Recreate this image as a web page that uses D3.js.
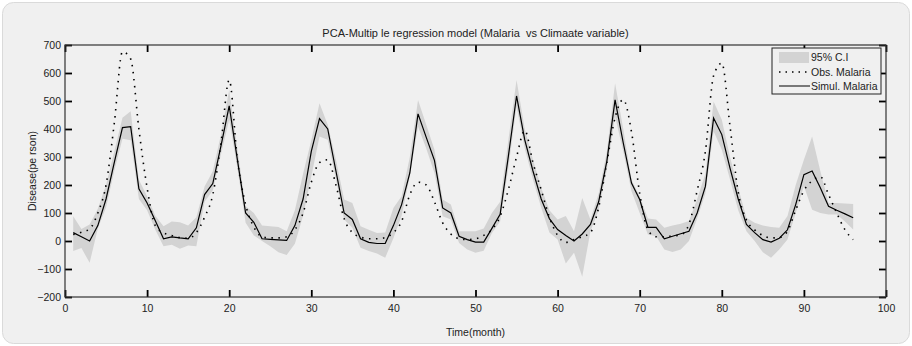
<!DOCTYPE html>
<html>
<head>
<meta charset="utf-8">
<script src="https://cdn.jsdelivr.net/npm/d3@7"></script>
<style>
  body { margin: 0; background: #fff; }
  text { font-family: "Liberation Sans", Arial, sans-serif; fill: #222; }
</style>
</head>
<body>
<div id="chart"></div>
<script>
// months 1..96
var months = d3.range(1, 97);

// observed malaria cases
var observed = [23, 31, 43, 100, 200, 420, 676, 650, 400, 190, 55, 29, 20, 12, 10, 30, 85, 165, 350, 575,
  290, 130, 50, 15, 11, 11, 15, 40, 100, 210, 280, 290, 200, 80, 30, 14, 8, 8, 12, 30,
  70, 165, 210, 200, 140, 65, 25, 8, 5, 8, 20, 41, 88, 183, 300, 395, 280, 183, 85, 20,
  -5, 5, 15, 30, 120, 280, 440, 505, 390, 170, 40, 15, 15, 18, 22, 60, 180, 320, 590, 635,
  410, 175, 75, 40, 20, 11, 12, 35, 110, 180, 215, 230, 166, 100, 40, 5];

// simulated (PCA regression) cases
var simulated = [30, 15, 0, 55, 150, 280, 405, 408, 186, 136, 72, 8, 15, 11, 8, 47, 166, 205, 340, 483,
  290, 100, 67, 8, 6, 4, 2, 55, 150, 320, 437, 400, 250, 100, 77, 8, -5, -9, -9, 55,
  130, 243, 454, 370, 288, 118, 100, 17, 5, -4, -4, 45, 95, 302, 518, 361, 250, 150, 80, 41,
  20, 0, 25, 59, 140, 285, 504, 350, 207, 148, 49, 49, 8, 17, 26, 35, 100, 195, 439, 380,
  260, 150, 59, 30, 5, -4, 10, 40, 130, 237, 250, 190, 124, 110, 97, 83];

// 95% confidence band
var upper = [88, 43, 59, 115, 200, 320, 440, 463, 219, 160, 90, 53, 70, 67, 55, 85, 195, 249, 380, 540,
  330, 124, 100, 55, 53, 50, 35, 110, 240, 360, 492, 415, 290, 148, 136, 53, 40, 29, 30, 118,
  160, 300, 504, 415, 326, 148, 130, 35, 35, 35, 45, 100, 140, 360, 575, 400, 290, 190, 110, 77,
  89, 35, 154, 77, 170, 320, 563, 400, 219, 160, 80, 77, 47, 55, 62, 71, 150, 240, 498, 433,
  300, 190, 83, 65, 55, 50, 47, 89, 200, 290, 373, 250, 136, 136, 134, 132];
var lower = [-36, -25, -78, 45, 120, 250, 365, 360, 150, 110, 40, -19, -13, -28, -16, -19, 140, 180, 310, 433,
  260, 65, 20, 0, -19, -40, -50, -10, 90, 230, 373, 362, 220, 77, 47, -24, -36, -45, -60, 10,
  90, 230, 409, 330, 243, 88, 77, -7, -30, -42, -35, 29, 70, 260, 480, 330, 220, 120, 30, 5,
  -80, -42, -128, 35, 110, 255, 445, 320, 178, 100, 23, 17, -30, -39, -30, 0, 80, 170, 392, 326,
  220, 110, 35, 0, -40, -60, -30, 5, 100, 196, 112, 100, 95, 95, 70, 41];

var xTicks = d3.range(0, 101, 10);
var yTicks = d3.range(-200, 701, 100);
var legendLabels = ["95% C.I", "Obs. Malaria", "Simul. Malaria"];

var W = 912, H = 346;
var margin = {top: 45, right: 26, bottom: 49, left: 65};
var width = W - margin.left - margin.right,
    height = H - margin.top - margin.bottom;

var svg = d3.select("#chart").append("svg")
    .attr("width", W)
    .attr("height", H);

// figure panel
svg.append("rect")
    .attr("x", 2.5).attr("y", 2.5)
    .attr("width", W - 5).attr("height", H - 5)
    .attr("rx", 11)
    .attr("fill", "#f0f0f0")
    .attr("stroke", "#dadada");

var g = svg.append("g")
    .attr("transform", "translate(" + margin.left + "," + margin.top + ")");

var x = d3.scaleLinear().domain([0, 100]).range([0, width]);
var y = d3.scaleLinear().domain([-200, 700]).range([height, 0]);

var rows = months.map(function(m, i) {
  return {t: m, obs: observed[i], sim: simulated[i], lo: lower[i], hi: upper[i]};
});

// confidence band
g.append("path")
    .datum(rows)
    .attr("fill", "#d3d3d3")
    .attr("d", d3.area()
        .x(function(d) { return x(d.t); })
        .y0(function(d) { return y(d.lo); })
        .y1(function(d) { return y(d.hi); }));

// observed, dotted
g.append("path")
    .datum(rows)
    .attr("fill", "none")
    .attr("stroke", "#000")
    .attr("stroke-width", 1.6)
    .attr("stroke-dasharray", "1.5,5.5")
    .attr("d", d3.line()
        .curve(d3.curveMonotoneX)
        .x(function(d) { return x(d.t); })
        .y(function(d) { return y(d.obs); }));

// simulated, solid
g.append("path")
    .datum(rows)
    .attr("fill", "none")
    .attr("stroke", "#000")
    .attr("stroke-width", 1.2)
    .attr("d", d3.line()
        .x(function(d) { return x(d.t); })
        .y(function(d) { return y(d.sim); }));

// axes, ticks inward like matlab
var tk = 7;
var xAxis = g.append("g")
    .attr("transform", "translate(0," + height + ")")
    .call(d3.axisBottom(x).tickValues(xTicks).tickSize(-tk).tickSizeOuter(0).tickPadding(8));
var xTop = g.append("g")
    .call(d3.axisTop(x).tickValues(xTicks).tickSize(-tk).tickSizeOuter(0).tickFormat(""));
var yAxis = g.append("g")
    .call(d3.axisLeft(y).tickValues(yTicks).tickSize(-tk).tickSizeOuter(0).tickPadding(4));
var yRight = g.append("g")
    .attr("transform", "translate(" + width + ",0)")
    .call(d3.axisRight(y).tickValues(yTicks).tickSize(-tk).tickSizeOuter(0).tickFormat(""));

[xAxis, xTop, yAxis, yRight].forEach(function(a) {
  a.select(".domain").remove();
  a.selectAll(".tick line").attr("stroke", "#000").attr("stroke-width", 1.8);
  a.selectAll(".tick text")
      .attr("font-size", 10.5)
      .attr("font-family", "Liberation Sans, Arial, sans-serif")
      .attr("fill", "#333");
});

g.append("rect")
    .attr("width", width).attr("height", height)
    .attr("fill", "none")
    .attr("stroke", "#333")
    .attr("stroke-width", 1.2);

// titles
svg.append("text")
    .attr("x", margin.left + width / 2).attr("y", 37)
    .attr("text-anchor", "middle")
    .attr("font-size", 11)
    .style("white-space", "pre")
    .text("PCA-Multip le regression model (Malaria  vs Climaate variable)");

svg.append("text")
    .attr("x", margin.left + width / 2).attr("y", 336)
    .attr("text-anchor", "middle")
    .attr("font-size", 10.5)
    .text("Time(month)");

svg.append("text")
    .attr("transform", "translate(36," + (margin.top + height / 2) + ") rotate(-90)")
    .attr("text-anchor", "middle")
    .attr("font-size", 10.5)
    .text("Disease(pe rson)");

// legend
var lg = svg.append("g").attr("transform", "translate(772,48)");
lg.append("rect")
    .attr("width", 109).attr("height", 46)
    .attr("fill", "#f0f0f0")
    .attr("stroke", "#222")
    .attr("stroke-width", 1);
lg.append("rect")
    .attr("x", 7).attr("y", 4)
    .attr("width", 30).attr("height", 11)
    .attr("fill", "#d3d3d3");
lg.append("line")
    .attr("x1", 7).attr("x2", 38).attr("y1", 24).attr("y2", 24)
    .attr("stroke", "#000").attr("stroke-width", 1.5)
    .attr("stroke-dasharray", "1.5,5");
lg.append("line")
    .attr("x1", 7).attr("x2", 38).attr("y1", 38).attr("y2", 38)
    .attr("stroke", "#000").attr("stroke-width", 1);
lg.selectAll("text.lab")
    .data(legendLabels)
    .enter().append("text")
    .attr("class", "lab")
    .attr("x", 39)
    .attr("y", function(d, i) { return 13 + i * 14.5; })
    .attr("font-size", 10.5)
    .text(function(d) { return d; });
</script>
</body>
</html>
